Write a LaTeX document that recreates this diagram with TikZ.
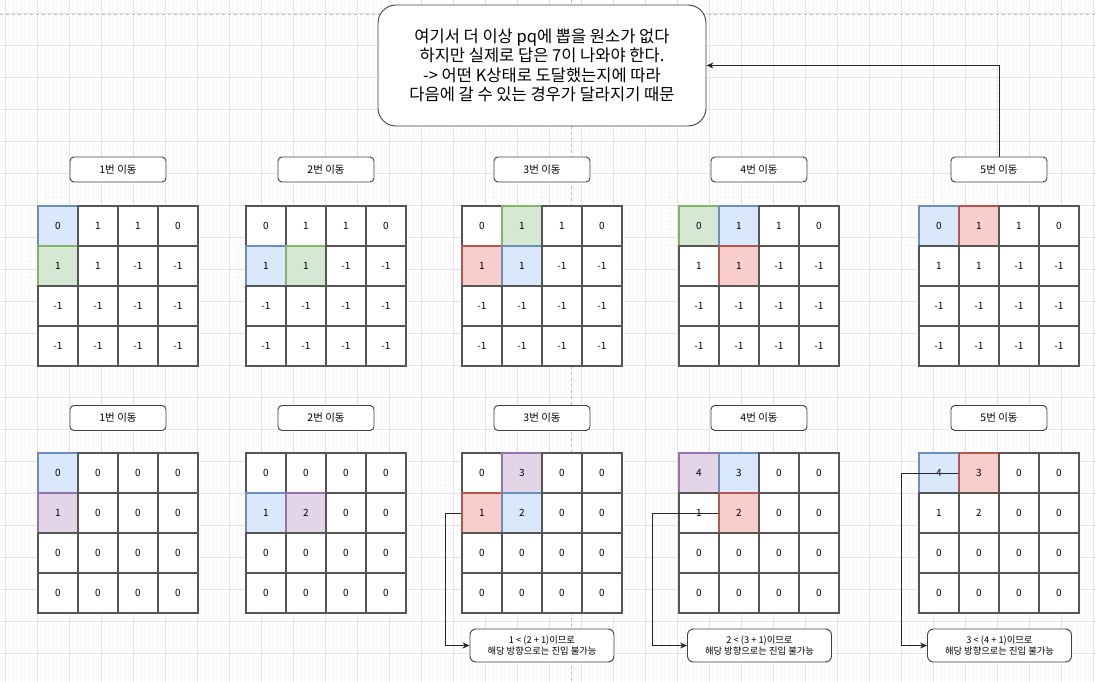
\documentclass[tikz,border=0pt]{standalone}
\usepackage{fontspec}
\setmainfont{Noto Sans CJK KR}
\usetikzlibrary{arrows.meta}

\definecolor{gridMinor}{RGB}{246,246,246}
\definecolor{gridMajor}{RGB}{228,228,228}
\definecolor{pageLine}{RGB}{190,190,190}
\definecolor{cellLine}{RGB}{85,85,85}
\definecolor{blueFill}{RGB}{218,232,252}
\definecolor{blueLine}{RGB}{108,142,191}
\definecolor{greenFill}{RGB}{213,232,212}
\definecolor{greenLine}{RGB}{130,179,102}
\definecolor{redFill}{RGB}{248,206,204}
\definecolor{redLine}{RGB}{184,84,80}
\definecolor{purpleFill}{RGB}{225,213,231}
\definecolor{purpleLine}{RGB}{150,115,166}

\tikzset{
  cell/.style={draw=cellLine,line width=1.3pt,fill=white,minimum size=40pt,
    inner sep=0pt,font=\fontsize{10}{12}\selectfont},
  cw/.style={},
  cb/.style={fill=blueFill,draw=blueLine},
  cg/.style={fill=greenFill,draw=greenLine},
  cr/.style={fill=redFill,draw=redLine},
  cp/.style={fill=purpleFill,draw=purpleLine},
  tag/.style={draw=black!75,line width=0.9pt,rounded corners=4pt,fill=white,
    minimum width=96pt,minimum height=25pt,inner sep=0pt,font=\fontsize{10.5}{12}\selectfont},
  memo/.style={draw=black!75,line width=0.9pt,rounded corners=6pt,fill=white,
    minimum width=144pt,minimum height=33pt,inner sep=0pt,align=center,
    font=\fontsize{9.3}{11.3}\selectfont},
  link/.style={draw=black!85,line width=0.8pt,-{Stealth[length=7pt,width=6pt]}},
}

% one 4x4 board: name, left, top, style/value list
\newcommand{\board}[4]{%
  \foreach \s/\v [count=\k from 0] in {#4}{%
    \pgfmathtruncatemacro{\row}{\k/4}%
    \pgfmathtruncatemacro{\col}{mod(\k,4)}%
    \node[cell,\s] (#1-\row-\col) at ({#2+20+40*\col},{#3+20+40*\row}) {\v};
  }}

\begin{document}
\begin{tikzpicture}[x=1pt,y=-1pt]
\useasboundingbox (0,0) rectangle (1096,682);
\fill[white] (0,0) rectangle (1096,682);

% background grid
\foreach \k in {0,...,136}
  \draw[gridMinor,line width=0.6pt] ({5.33+8*\k},0) -- ({5.33+8*\k},682);
\foreach \k in {0,...,85}
  \draw[gridMinor,line width=0.6pt] (0,{5.33+8*\k}) -- (1096,{5.33+8*\k});
\foreach \k in {0,...,34}
  \draw[gridMajor,line width=0.7pt] ({5.33+32*\k},0) -- ({5.33+32*\k},682);
\foreach \k in {0,...,21}
  \draw[gridMajor,line width=0.7pt] (0,{13.33+32*\k}) -- (1096,{13.33+32*\k});
\draw[pageLine,line width=0.7pt,dash pattern=on 3pt off 3pt] (0,14) -- (1096,14);
\draw[pageLine,line width=0.7pt,dash pattern=on 3pt off 3pt] (571.7,0) -- (571.7,682);

% top row
\node[tag] (lt1) at (118,169.5) {1번 이동};
\node[tag] (lt2) at (326,169.5) {2번 이동};
\node[tag] (lt3) at (542,169.5) {3번 이동};
\node[tag] (lt4) at (759,169.5) {4번 이동};
\node[tag] (lt5) at (999,169.5) {5번 이동};

\board{t1}{38}{206}{cb/0,cw/1,cw/1,cw/0,cg/1,cw/1,cw/-1,cw/-1,%
cw/-1,cw/-1,cw/-1,cw/-1,cw/-1,cw/-1,cw/-1,cw/-1}
\board{t2}{246}{206}{cw/0,cw/1,cw/1,cw/0,cb/1,cg/1,cw/-1,cw/-1,%
cw/-1,cw/-1,cw/-1,cw/-1,cw/-1,cw/-1,cw/-1,cw/-1}
\board{t3}{462}{206}{cw/0,cg/1,cw/1,cw/0,cr/1,cb/1,cw/-1,cw/-1,%
cw/-1,cw/-1,cw/-1,cw/-1,cw/-1,cw/-1,cw/-1,cw/-1}
\board{t4}{679}{206}{cg/0,cb/1,cw/1,cw/0,cw/1,cr/1,cw/-1,cw/-1,%
cw/-1,cw/-1,cw/-1,cw/-1,cw/-1,cw/-1,cw/-1,cw/-1}
\board{t5}{919}{206}{cb/0,cr/1,cw/1,cw/0,cw/1,cw/1,cw/-1,cw/-1,%
cw/-1,cw/-1,cw/-1,cw/-1,cw/-1,cw/-1,cw/-1,cw/-1}

% bottom row
\node[tag] (lb1) at (118,418) {1번 이동};
\node[tag] (lb2) at (326,418) {2번 이동};
\node[tag] (lb3) at (542,418) {3번 이동};
\node[tag] (lb4) at (759,418) {4번 이동};
\node[tag] (lb5) at (999,418) {5번 이동};

\board{b1}{38}{453}{cb/0,cw/0,cw/0,cw/0,cp/1,cw/0,cw/0,cw/0,%
cw/0,cw/0,cw/0,cw/0,cw/0,cw/0,cw/0,cw/0}
\board{b2}{246}{453}{cw/0,cw/0,cw/0,cw/0,cb/1,cp/2,cw/0,cw/0,%
cw/0,cw/0,cw/0,cw/0,cw/0,cw/0,cw/0,cw/0}
\board{b3}{462}{453}{cw/0,cp/3,cw/0,cw/0,cr/1,cb/2,cw/0,cw/0,%
cw/0,cw/0,cw/0,cw/0,cw/0,cw/0,cw/0,cw/0}
\board{b4}{679}{453}{cp/4,cb/3,cw/0,cw/0,cw/1,cr/2,cw/0,cw/0,%
cw/0,cw/0,cw/0,cw/0,cw/0,cw/0,cw/0,cw/0}
\board{b5}{919}{453}{cb/4,cr/3,cw/0,cw/0,cw/1,cw/2,cw/0,cw/0,%
cw/0,cw/0,cw/0,cw/0,cw/0,cw/0,cw/0,cw/0}

% notes
\node[memo] (n1) at (542,645.5) {1 < (2 + 1)이므로\\해당 방향으로는 진입 불가능};
\node[memo] (n2) at (759.5,645.5) {2 < (3 + 1)이므로\\해당 방향으로는 진입 불가능};
\node[memo] (n3) at (999.5,645.5) {3 < (4 + 1)이므로\\해당 방향으로는 진입 불가능};

\node[draw=black!75,line width=0.9pt,rounded corners=18pt,fill=white,
  minimum width=328pt,minimum height=121pt,align=center,
  font=\fontsize{16.5}{19.5}\selectfont] (info) at (542,65.5)
  {여기서 더 이상 pq에 뽑을 원소가 없다\\하지만 실제로 답은 7이 나와야 한다.\\
   -> 어떤 K상태로 도달했는지에 따라\\다음에 갈 수 있는 경우가 달라지기 때문};

% connectors
\draw[link] (b3-1-0.west) -- ++(-16,0) |- (n1.west);
\draw[link] (b4-1-1.west) -- ++(-66,0) |- (n2.west);
\draw[link] (b5-0-1.west) -- ++(-57,0) |- (n3.west);
\draw[link] (lt5.north) |- (info.east);
\end{tikzpicture}
\end{document}
